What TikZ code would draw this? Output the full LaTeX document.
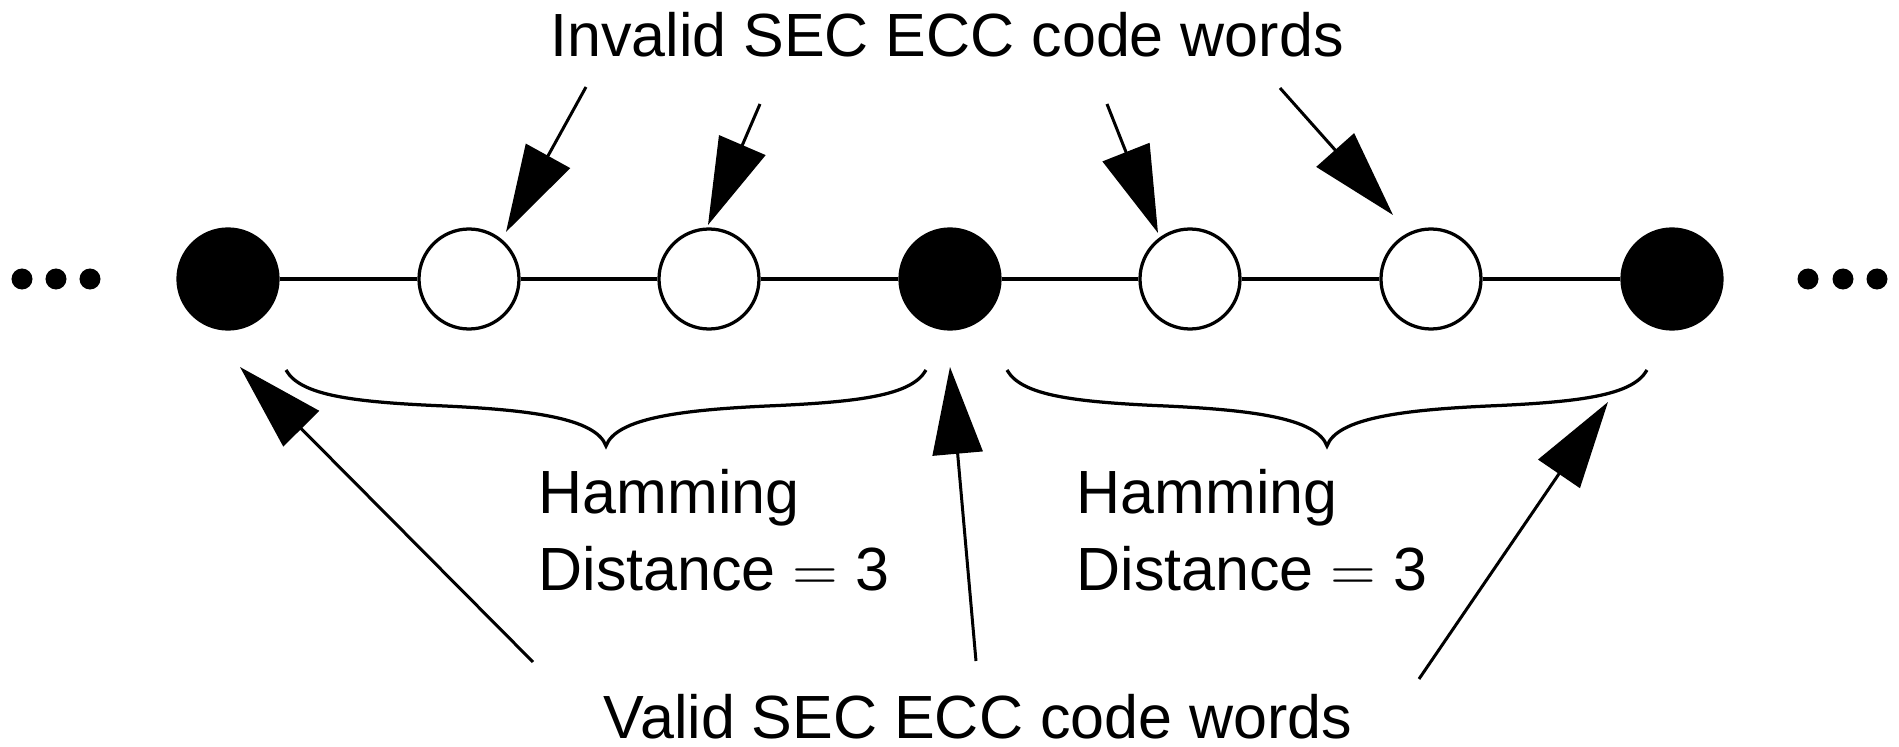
\documentclass[tikz,border=0pt]{standalone}
\usepackage{fontspec}
\setmainfont{Liberation Sans}
\usetikzlibrary{calc,arrows.meta}

\begin{document}
\begin{tikzpicture}[x=0.2pt, y=-0.2pt, line width=0.65pt,
  % Code words on the line: valid filled, invalid open
  validword/.style={circle, draw, fill=black, minimum size=20pt, inner sep=0pt},
  invalidword/.style={circle, draw, fill=white, minimum size=20pt, inner sep=0pt},
  % Big triangle heads
  pointer/.style={line width=0.6pt, -{Triangle[length=17.4pt, width=10pt]}},
  lbl/.style={font=\fontsize{12.2}{15.4}\selectfont, inner sep=0pt}
]
  \useasboundingbox (0,0) rectangle (1899,747);

  % Row of code words
  \node[validword]   (valid1)   at (228,279)  {};
  \node[invalidword] (invalid1) at (469,279)  {};
  \node[invalidword] (invalid2) at (709,279)  {};
  \node[validword]   (valid2)   at (950,279)  {};
  \node[invalidword] (invalid3) at (1190,279) {};
  \node[invalidword] (invalid4) at (1431,279) {};
  \node[validword]   (valid3)   at (1672,279) {};

  \draw (valid1) -- (invalid1) -- (invalid2) -- (valid2)
        -- (invalid3) -- (invalid4) -- (valid3);

  % Ellipsis on both ends
  \foreach \x in {22,56,90,1808,1843,1877}
    \fill (\x,279) circle (2.1pt);

  % Labels
  \node[lbl, anchor=base] (invalidtxt) at (947,57) {Invalid SEC ECC code words};
  \node[lbl, anchor=base] (validtxt)   at (978,739) {Valid SEC ECC code words};
  % base anchor sits on the last line here
  \node[lbl, anchor=base west, align=left] (hamming1) at (537,590) {Hamming\\Distance $=$ 3};
  \node[lbl, anchor=base west, align=left] (hamming2) at (1075,590) {Hamming\\Distance $=$ 3};

  % --- Arrows from the top label to the invalid words ---
  \coordinate (itail1) at (586,87);
  \coordinate (itail2) at (760,104);
  \coordinate (itail3) at (1107,104);
  \coordinate (itail4) at (1280,88);
  \draw[pointer] (itail1) -- ($(invalid1)+(37,-47)$);
  \draw[pointer] (itail2) -- ($(invalid2)+(-1,-54)$);
  \draw[pointer] (itail3) -- ($(invalid3)+(-32,-46)$);
  \draw[pointer] (itail4) -- ($(invalid4)+(-38,-64)$);

  % --- Arrows from the bottom label to the valid words ---
  \coordinate (vtail1) at (533,662);
  \coordinate (vtail2) at (976,661);
  \coordinate (vtail3) at (1419,679);
  \draw[pointer] (vtail1) -- ($(valid1)+(12,88)$);
  \draw[pointer] (vtail2) -- ($(valid2)+(0,88)$);
  \draw[pointer] (vtail3) -- ($(valid3)+(-64,123)$);

  % Braces under each gap
  \foreach \cx in {606,1327}
    \draw (\cx-320,370) .. controls (\cx-306,395) and (\cx-256,402) .. (\cx-161,406)
          .. controls (\cx-76,410) and (\cx-10,418) .. (\cx,446)
          .. controls (\cx+10,418) and (\cx+76,410) .. (\cx+161,406)
          .. controls (\cx+256,402) and (\cx+306,395) .. (\cx+320,370);

\end{tikzpicture}
\end{document}
